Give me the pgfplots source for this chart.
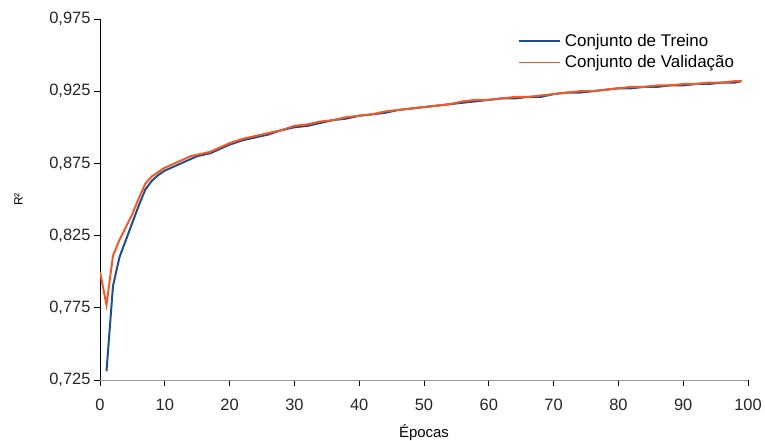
\documentclass[border=0pt]{standalone}
\usepackage{fontspec}
\setmainfont{Liberation Sans}
\usepackage{pgfplots}
\pgfplotsset{compat=1.18}
\definecolor{treino}{HTML}{1F4E8C}
\definecolor{valid}{HTML}{F05A28}

\pgfplotstableread{
x y
1 0.731
2 0.790
3 0.810
4 0.822
5 0.834
6 0.846
7 0.857
8 0.863
9 0.867
10 0.870
11 0.872
12 0.874
13 0.876
14 0.878
15 0.880
16 0.881
17 0.882
18 0.884
19 0.886
20 0.888
22 0.891
24 0.893
26 0.895
28 0.898
30 0.900
32 0.901
34 0.903
36 0.905
38 0.906
40 0.908
42 0.909
44 0.910
46 0.912
48 0.913
50 0.914
52 0.915
54 0.916
56 0.917
58 0.918
60 0.919
62 0.920
64 0.920
66 0.921
68 0.921
70 0.923
72 0.924
74 0.924
76 0.925
78 0.926
80 0.927
82 0.927
84 0.928
86 0.928
88 0.929
90 0.929
92 0.930
94 0.930
96 0.931
98 0.931
99 0.932
}\treino

\pgfplotstableread{
x y
0 0.800
1 0.777
2 0.811
3 0.822
4 0.831
5 0.840
6 0.851
7 0.861
8 0.866
9 0.869
10 0.872
11 0.874
12 0.876
13 0.878
14 0.880
15 0.881
16 0.882
17 0.883
18 0.885
19 0.887
20 0.889
22 0.892
24 0.894
26 0.896
28 0.898
30 0.901
32 0.902
34 0.904
36 0.905
38 0.907
40 0.908
42 0.909
44 0.911
46 0.912
48 0.913
50 0.914
52 0.915
54 0.916
56 0.918
58 0.919
60 0.919
62 0.920
64 0.921
66 0.921
68 0.922
70 0.923
72 0.924
74 0.925
76 0.925
78 0.926
80 0.927
82 0.928
84 0.928
86 0.929
88 0.929
90 0.930
92 0.930
94 0.931
96 0.931
98 0.932
99 0.932
}\valid

\begin{document}
\begin{tikzpicture}
\path[use as bounding box] (-100bp,-61bp) rectangle (665bp,380bp);
\begin{axis}[scale only axis,width=648bp,height=361bp,
 xmin=0,xmax=100,ymin=0.725,ymax=0.975,
 xtick={0,10,...,100},
 ytick={0.725,0.775,0.825,0.875,0.925,0.975},
 axis x line*=bottom,axis y line*=left,
 x axis line style={gray!80,line width=1pt,-},
 y axis line style={black,line width=0.8pt,-},
 tick align=outside,major tick length=6bp,
 xtick style={black,line width=0.8pt},ytick style={black,line width=0.8pt},
 /pgf/number format/assume math mode=true,
 yticklabel style={/pgf/number format/.cd,use comma,fixed,fixed zerofill,precision=3},
 tick label style={font=\fontsize{16.5}{19}\selectfont,text=black!85},
 xticklabel style={yshift=-9bp},
 xlabel={Épocas},ylabel={R²},
 xlabel style={font=\fontsize{15}{18}\selectfont,yshift=-8bp},
 ylabel style={font=\fontsize{12}{14}\selectfont,yshift=20bp},
 legend style={draw=none,fill=none,at={(0.645,0.965)},anchor=north west,
  font=\fontsize{17}{20}\selectfont,row sep=4bp,inner sep=0pt,
  nodes={inner xsep=4bp}},
 legend cell align=left,
 legend image code/.code={\draw[#1,line width=1.6pt] (0cm,0cm) -- (1.45cm,0cm);},
 ]
\addplot[treino,line width=2pt] table {\treino};
\addlegendentry{Conjunto de Treino}
\addplot[valid,line width=2pt] table {\valid};
\addlegendentry{Conjunto de Validação}
\end{axis}
\end{tikzpicture}
\end{document}
